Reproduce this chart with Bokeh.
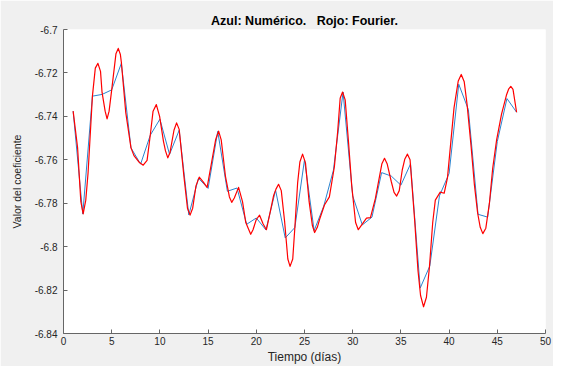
from bokeh.plotting import figure
from bokeh.models import Range1d, FixedTicker, CustomJSTickFormatter
from bokeh.embed import file_html
from bokeh.resources import INLINE

# Numeric (blue) series: one value per day
days = list(range(1, 48))
numerico = [-6.7376, -6.7850, -6.7307, -6.7299, -6.7278, -6.7156, -6.7545, -6.7620,
            -6.7487, -6.7413, -6.7575, -6.7464, -6.7854, -6.7685, -6.7732, -6.7469,
            -6.7745, -6.7730, -6.7897, -6.7868, -6.7923, -6.7740, -6.7960, -6.7912,
            -6.7600, -6.7926, -6.7813, -6.7648, -6.7288, -6.7766, -6.7900, -6.7864,
            -6.7659, -6.7675, -6.7717, -6.7619, -6.8191, -6.8089, -6.7766, -6.7663,
            -6.7252, -6.7369, -6.7851, -6.7864, -6.7516, -6.7318, -6.7381]

# Fourier (red) curve
t_fourier = [
    1.0, 1.46, 1.8, 2.04, 2.31, 2.55, 3.0, 3.30, 3.57, 3.84, 4.0, 4.32, 4.52, 4.73,
    5.0, 5.44, 5.68, 5.9, 6.0, 6.46, 7.0, 7.31, 7.82, 8.27, 8.67, 9.0, 9.29, 9.63,
    9.97, 10.37, 10.58, 10.82, 11.05, 11.46, 11.73, 12.0, 12.5, 12.86, 13.13, 13.4,
    13.74, 14.08, 14.49, 14.9, 15.34, 15.78, 16.09, 16.36, 16.8, 17.21, 17.45, 17.72,
    18.16, 18.57, 18.91, 19.18, 19.42, 19.66, 20.0, 20.34, 20.71, 21.05, 21.46, 21.8,
    22.04, 22.31, 22.59, 22.93, 23.27, 23.5, 23.78, 24.0, 24.29, 24.52, 24.8, 25.1,
    25.48, 25.82, 26.05, 26.33, 26.57, 27.07, 27.58, 28.1, 28.44, 28.7, 28.95, 29.22,
    29.56, 29.9, 30.3, 30.58, 30.88, 31.43, 31.84, 32.35, 33.03, 33.3, 33.57, 34.0,
    34.29, 34.56, 34.83, 35.14, 35.41, 35.68, 35.95, 36.43, 36.77, 37.04, 37.35, 37.65,
    37.96, 38.3, 38.57, 39.08, 39.49, 39.83, 40.17, 40.51, 40.95, 41.26, 41.57, 41.87,
    42.28, 42.62, 42.96, 43.23, 43.5, 43.81, 44.18, 44.52, 44.93, 45.44, 45.95, 46.19,
    46.4, 46.63, 47.0]
fourier = [
    -6.7376, -6.7544, -6.7793, -6.7849, -6.7786, -6.7660, -6.7307, -6.7178, -6.7156,
    -6.7193, -6.7290, -6.7376, -6.7412, -6.7376, -6.7278, -6.7112, -6.7087, -6.7115,
    -6.7150, -6.7383, -6.7545, -6.7581, -6.7610, -6.7625, -6.7603, -6.7487, -6.7376,
    -6.7346, -6.7400, -6.7515, -6.7559, -6.7591, -6.7566, -6.7464, -6.7430, -6.7460,
    -6.7680, -6.7823, -6.7855, -6.7823, -6.7720, -6.7680, -6.7702, -6.7727, -6.7618,
    -6.7508, -6.7468, -6.7508, -6.7676, -6.7771, -6.7796, -6.7776, -6.7727, -6.7793,
    -6.7889, -6.7918, -6.7943, -6.7922, -6.7875, -6.7855, -6.7896, -6.7922, -6.7837,
    -6.7764, -6.7735, -6.7713, -6.7742, -6.7881, -6.8057, -6.8091, -6.8057, -6.7912,
    -6.7705, -6.7610, -6.7574, -6.7614, -6.7793, -6.7903, -6.7935, -6.7911, -6.7874,
    -6.7808, -6.7771, -6.7632, -6.7471, -6.7317, -6.7288, -6.7324, -6.7515, -6.7720,
    -6.7889, -6.7922, -6.7903, -6.7869, -6.7866, -6.7779, -6.7618, -6.7593, -6.7618,
    -6.7700, -6.7750, -6.7767, -6.7742, -6.7647, -6.7596, -6.7574, -6.7600, -6.7881,
    -6.8109, -6.8225, -6.8277, -6.8233, -6.8094, -6.7889, -6.7786, -6.7749, -6.7754,
    -6.7683, -6.7522, -6.7361, -6.7237, -6.7207, -6.7241, -6.7347, -6.7537, -6.7713,
    -6.7845, -6.7911, -6.7940, -6.7915, -6.7801, -6.7640, -6.7508, -6.7390, -6.7302,
    -6.7273, -6.7262, -6.7276, -6.7381]

x_ticks = [0, 5, 10, 15, 20, 25, 30, 35, 40, 45, 50]
y_ticks = [-6.84, -6.82, -6.8, -6.78, -6.76, -6.74, -6.72, -6.7]

title_text = "Azul: Numérico.\u00a0\u00a0 Rojo: Fourier."
x_label = "Tiempo (días)"
y_label = "Valor del coeficiente"

FONT = "Liberation Sans"
GRAY = "#f0f0f0"
AX = "#666666"

p = figure(width=553, height=366, output_backend="svg", toolbar_location=None,
           x_range=Range1d(0, 50), y_range=Range1d(-6.84, -6.7),
           min_border_left=63, min_border_right=8, min_border_top=29, min_border_bottom=30)
p.border_fill_color = GRAY
p.background_fill_color = "white"
p.outline_line_color = None
p.grid.visible = False

p.title.text = title_text
p.title.align = "center"
p.title.text_font = FONT
p.title.text_font_size = "12.5px"
p.title.text_font_style = "bold"
p.title.text_color = "#000000"
p.title.standoff = 4

p.line(days, numerico, line_color="#2a84d0", line_width=1.0)
p.line(t_fourier, fourier, line_color="#ff0000", line_width=1.2, line_join="round")

for ax in (p.xaxis[0], p.yaxis[0]):
    ax.axis_line_color = AX
    ax.major_tick_line_color = AX
    ax.major_tick_in = 4
    ax.major_tick_out = 0
    ax.minor_tick_line_color = None
    ax.major_label_text_font = FONT
    ax.major_label_text_font_size = "10px"
    ax.major_label_text_color = "#262626"
    ax.axis_label_text_font = FONT
    ax.axis_label_text_font_style = "normal"
    ax.axis_label_text_color = "#262626"

p.xaxis.axis_label_text_font_size = "12px"
p.yaxis.axis_label_text_font_size = "10.5px"
p.xaxis.ticker = FixedTicker(ticks=x_ticks)
p.yaxis.ticker = FixedTicker(ticks=y_ticks)
p.yaxis.formatter = CustomJSTickFormatter(code="return tick.toFixed(2).replace(/0$/, '');")
p.xaxis.formatter = CustomJSTickFormatter(code="return tick.toFixed(0);")
p.xaxis.major_label_standoff = 3
p.yaxis.major_label_standoff = 6
p.xaxis.axis_label = x_label
p.yaxis.axis_label = y_label
p.xaxis.axis_label_standoff = 2
p.yaxis.axis_label_standoff = 9

open("out.html", "w").write(file_html(p, INLINE))
